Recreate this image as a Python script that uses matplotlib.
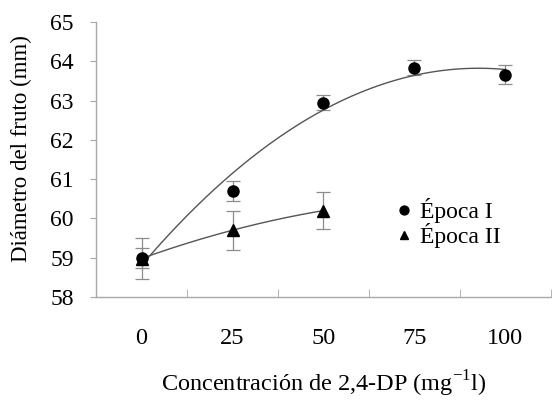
import numpy as np
import matplotlib.pyplot as plt

plt.rcParams['font.family'] = ['Liberation Serif', 'DejaVu Serif']
plt.rcParams['mathtext.fontset'] = 'custom'
plt.rcParams['mathtext.rm'] = 'Liberation Serif'

# Concentración de 2,4-DP y diámetro medio del fruto
conc = [0, 25, 50, 75, 100]
epoca1 = [59.0, 60.7, 62.95, 63.84, 63.66]
epoca1_err = [0.25, 0.25, 0.2, 0.2, 0.25]

conc2 = [0, 25, 50]
epoca2 = [58.98, 59.7, 60.2]
epoca2_err = [0.52, 0.5, 0.48]

axis_gray = '#a8a8a8'
err_gray = '#8c8c8c'
line_gray = '#555555'


def trend(x, y, deg):
    coef = np.polyfit(x, y, deg)
    xs = np.linspace(min(x), max(x), 200)
    return xs, np.polyval(coef, xs)


fig = plt.figure(figsize=(5.52, 4.0), dpi=100)
ax = fig.add_axes([0.174, 0.2575, 0.824, 0.6875])

# polynomial trend lines
xs, ys = trend(conc, epoca1, 2)
ax.plot(xs, ys, color=line_gray, lw=1.0, zorder=2)
xs, ys = trend(conc2, epoca2, 2)
ax.plot(xs, ys, color=line_gray, lw=1.0, zorder=2)

ax.errorbar(conc, epoca1, yerr=epoca1_err, fmt='none', ecolor=err_gray,
            elinewidth=0.9, capsize=5, capthick=0.9, zorder=1)
ax.errorbar(conc2, epoca2, yerr=epoca2_err, fmt='none', ecolor=err_gray,
            elinewidth=0.9, capsize=5, capthick=0.9, zorder=1)

ax.plot(conc, epoca1, 'o', color='black', ms=8, label='Época I', zorder=3)
ax.plot(conc2, epoca2, '^', color='black', ms=8, label='Época II', zorder=3)

ax.set_xlim(-12.5, 112.5)
ax.set_ylim(58, 65)
ax.set_yticks(range(58, 66))
ax.set_xticks(conc)
ax.set_xticks([12.5, 37.5, 62.5, 87.5, 112.5], minor=True)

for side in ['top', 'right']:
    ax.spines[side].set_visible(False)
for side in ['left', 'bottom']:
    ax.spines[side].set_color(axis_gray)
    ax.spines[side].set_linewidth(1.0)

ax.tick_params(axis='y', direction='out', length=4, color=axis_gray,
               labelsize=17, pad=12)
ax.tick_params(axis='x', which='major', length=0, labelsize=17.5, pad=22)
ax.tick_params(axis='x', which='minor', direction='in', length=6,
               color=axis_gray)

ax.set_ylabel('Diámetro del fruto (mm)', fontsize=16.5)
ax.yaxis.set_label_coords(-0.14, 0.54)
ax.set_xlabel(r'Concentración de 2,4-DP (mg$^{\mathrm{-1}}$l)', fontsize=17.5,
              va='center')
ax.xaxis.set_label_coords(0.5, -0.315)

ax.legend(loc='upper left', bbox_to_anchor=(0.64, 0.395), frameon=False,
          fontsize=17, handlelength=0.6, handletextpad=0.4,
          labelspacing=0.0, markerscale=0.8, borderaxespad=0)

fig.savefig('out.png', dpi=100)
